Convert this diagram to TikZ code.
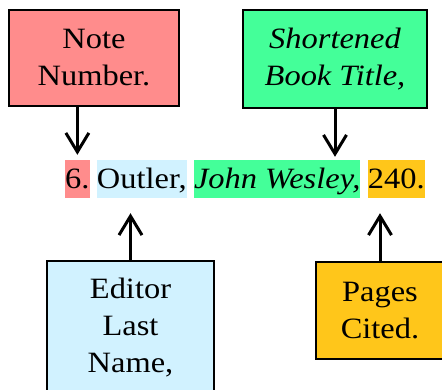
\documentclass[tikz,border=0pt]{standalone}
\usepackage{fontspec}
\setmainfont{Liberation Serif}[FakeStretch=1.1]
\usetikzlibrary{positioning,arrows.meta}
\definecolor{notered}{RGB}{255,140,140}
\definecolor{titlegreen}{RGB}{68,255,153}
\definecolor{editorblue}{RGB}{209,242,255}
\definecolor{pagesgold}{RGB}{255,198,26}

\begin{document}
\begin{tikzpicture}[x=1pt,y=-1pt]
        \tikzset{
            part box/.style={
                draw=black, line width=2.2pt, align=center, inner sep=0pt,
                font=\fontsize{29.5}{37}\selectfont,
            },
            part word/.style={
                inner sep=0pt, text height=29pt, text depth=9pt,
                font=\fontsize{29.5}{37}\selectfont,
            },
            pointer/.style={line width=3pt, -{Straight Barb[length=19pt,width=23pt]}},
        }
        \clip (0,0) rectangle (442,390);

        % the boxes that name each part
        \node[part box, fill=notered, minimum width=170pt, minimum height=96pt] (note) at (94,58) {Note\\Number.};
        \node[part box, fill=titlegreen, minimum width=184pt, minimum height=98pt] (title) at (335,59) {\itshape Shortened\\\itshape Book Title,};
        \node[part box, fill=editorblue, minimum width=167pt, minimum height=133pt] (editor) at (130.5,327.5) {Editor\\Last\\Name,};
        \node[part box, fill=pagesgold, minimum width=128pt, minimum height=97pt] (pages) at (380,310.5) {Pages\\Cited.};

        % the note itself
        \node[part word, fill=notered, anchor=west] (num) at (65,179) {6.};
        \node[part word, fill=editorblue, right=7pt of num] (outl) {Outler,};
        \node[part word, fill=titlegreen, right=7pt of outl] (wes) {\itshape John Wesley,};
        \node[part word, fill=pagesgold, right=7pt of wes] (pp) {240.};

        % pointers from the boxes to the words
        \draw[pointer, shorten >=5pt] (note.south -| num) -- (num.north);
        \draw[pointer, shorten >=3pt] (title.south) -- (title.south |- wes.north);
        \foreach \src/\dst in {editor/outl, pages/pp} {
            \draw[pointer, shorten >=15pt] (\src.north) -- (\src.north |- \dst.south);
        }
\end{tikzpicture}
\end{document}
